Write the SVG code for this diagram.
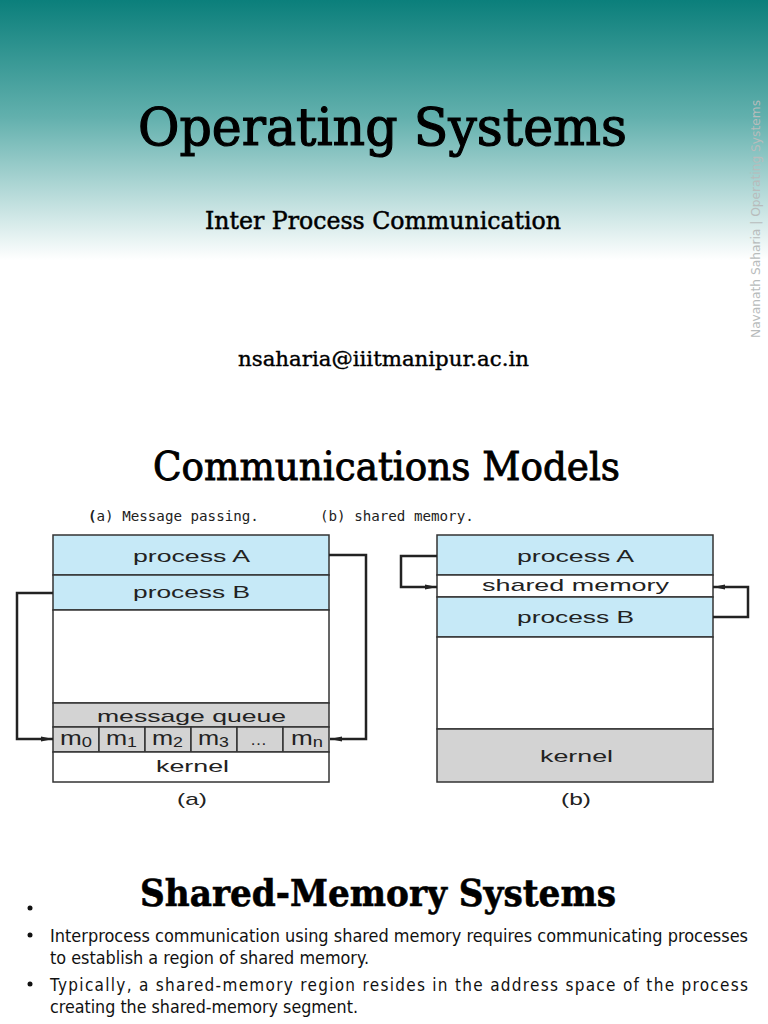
<svg xmlns="http://www.w3.org/2000/svg" width="768" height="1024" viewBox="0 0 768 1024">
<defs>
<linearGradient id="bg" x1="0" y1="0" x2="0" y2="1">
<stop offset="0" stop-color="#0b7f7b"/>
<stop offset="0.45" stop-color="#62b0ad"/>
<stop offset="1" stop-color="#ffffff"/>
</linearGradient>
<marker id="ah" viewBox="0 0 12 6" refX="12" refY="3" markerWidth="12" markerHeight="6" markerUnits="userSpaceOnUse" orient="auto">
<path d="M0,0.5 L12,3 L0,5.5 z" fill="#222"/>
</marker>
<style>
.slab{font-family:"DejaVu Serif",serif;fill:#000;stroke:#000}
.mono{font-family:"DejaVu Sans Mono","Liberation Mono",monospace;font-size:14.2px;fill:#222}
.lbl{font-family:"Liberation Sans",Arial,sans-serif;font-size:17px;fill:#222}
.m{font-family:"Liberation Sans",Arial,sans-serif;font-size:20px;fill:#222}
.blue{fill:#c6e9f7;stroke:#333;stroke-width:1.5}
.gray{fill:#d3d3d3;stroke:#333;stroke-width:1.5}
.white{fill:#ffffff;stroke:#333;stroke-width:1.5}
.conn{fill:none;stroke:#222;stroke-width:2.5;marker-end:url(#ah)}
.body{font-family:"DejaVu Sans Condensed","DejaVu Sans",sans-serif;font-size:17px;fill:#111}
</style>
</defs>
<rect x="0" y="0" width="768" height="260" fill="url(#bg)"/>
<rect x="0" y="260" width="768" height="764" fill="#ffffff"/>

<text class="slab" x="138" y="145" font-size="52" stroke-width="1.2" textLength="489" lengthAdjust="spacingAndGlyphs">Operating Systems</text>
<text class="slab" x="205" y="229" font-size="24" stroke-width="0.5" textLength="356" lengthAdjust="spacingAndGlyphs">Inter Process Communication</text>
<text class="slab" x="238" y="366" font-size="21" stroke-width="0.4" textLength="291" lengthAdjust="spacingAndGlyphs">nsaharia@iiitmanipur.ac.in</text>
<text x="760" y="338" transform="rotate(-90 760 338)" font-family="'DejaVu Sans Condensed','DejaVu Sans',sans-serif" font-size="12" fill="#b8bcbc" textLength="238" lengthAdjust="spacingAndGlyphs">Navanath Saharia | Operating Systems</text>

<text class="slab" x="153" y="480" font-size="39" stroke-width="0.9" textLength="467" lengthAdjust="spacingAndGlyphs">Communications Models</text>
<text class="mono" x="88" y="521"><tspan font-weight="bold">(</tspan>a) Message passing.</text>
<text class="mono" x="320" y="521">(b) shared memory.</text>

<g id="diagram-a">
<rect class="blue" x="53" y="535" width="276" height="40"/>
<text class="lbl" x="133" y="562" textLength="117" lengthAdjust="spacingAndGlyphs">process A</text>
<rect class="blue" x="53" y="575" width="276" height="35"/>
<text class="lbl" x="133" y="598" textLength="117" lengthAdjust="spacingAndGlyphs">process B</text>
<rect class="white" x="53" y="610" width="276" height="93"/>
<rect class="gray" x="53" y="703" width="276" height="24"/>
<text class="lbl" x="97" y="722" textLength="189" lengthAdjust="spacingAndGlyphs">message queue</text>
<rect class="gray" x="53" y="727" width="46" height="25"/>
<rect class="gray" x="99" y="727" width="46" height="25"/>
<rect class="gray" x="145" y="727" width="46" height="25"/>
<rect class="gray" x="191" y="727" width="46" height="25"/>
<rect class="gray" x="237" y="727" width="46" height="25"/>
<rect class="gray" x="283" y="727" width="46" height="25"/>
<text class="m" x="60" y="745" textLength="32" lengthAdjust="spacingAndGlyphs">m<tspan font-size="14" dy="2">0</tspan></text>
<text class="m" x="106" y="745" textLength="31" lengthAdjust="spacingAndGlyphs">m<tspan font-size="14" dy="2">1</tspan></text>
<text class="m" x="152" y="745" textLength="31" lengthAdjust="spacingAndGlyphs">m<tspan font-size="14" dy="2">2</tspan></text>
<text class="m" x="198" y="745" textLength="31" lengthAdjust="spacingAndGlyphs">m<tspan font-size="14" dy="2">3</tspan></text>
<text class="lbl" x="250" y="745">…</text>
<text class="m" x="291" y="745" textLength="32" lengthAdjust="spacingAndGlyphs">m<tspan font-size="14" dy="2">n</tspan></text>
<rect class="white" x="53" y="752" width="276" height="30"/>
<text class="lbl" x="156" y="772" textLength="73" lengthAdjust="spacingAndGlyphs">kernel</text>
<text class="lbl" x="177" y="805" font-size="20" textLength="30" lengthAdjust="spacingAndGlyphs">(a)</text>
</g>

<g id="diagram-b">
<rect class="blue" x="437" y="535" width="276" height="40"/>
<text class="lbl" x="517" y="562" textLength="117" lengthAdjust="spacingAndGlyphs">process A</text>
<rect class="white" x="437" y="575" width="276" height="22"/>
<text class="lbl" x="482" y="591" textLength="187" lengthAdjust="spacingAndGlyphs">shared memory</text>
<rect class="blue" x="437" y="597" width="276" height="40"/>
<text class="lbl" x="517" y="623" textLength="117" lengthAdjust="spacingAndGlyphs">process B</text>
<rect class="white" x="437" y="637" width="276" height="92"/>
<rect class="gray" x="437" y="729" width="276" height="53"/>
<text class="lbl" x="540" y="762" textLength="73" lengthAdjust="spacingAndGlyphs">kernel</text>
<text class="lbl" x="561" y="805" font-size="20" textLength="30" lengthAdjust="spacingAndGlyphs">(b)</text>
</g>

<g id="connectors">
<path class="conn" d="M329,555 H366 V739 H330"/>
<path class="conn" d="M53,593 H17 V739 H53"/>
<path class="conn" d="M437,556 H401 V587 H437"/>
<path class="conn" d="M713,617 H748 V587 H713"/>
</g>

<text class="slab" x="140" y="906" font-size="37" font-weight="bold" stroke-width="0.6" textLength="476" lengthAdjust="spacingAndGlyphs">Shared-Memory Systems</text>
<circle cx="30" cy="908" r="2.5" fill="#111"/>
<circle cx="30" cy="935" r="2.5" fill="#111"/>
<text class="body" x="50" y="942" textLength="698" lengthAdjust="spacingAndGlyphs">Interprocess communication using shared memory requires communicating processes</text>
<text class="body" x="50" y="964" textLength="319" lengthAdjust="spacingAndGlyphs">to establish a region of shared memory.</text>
<circle cx="30" cy="984" r="2.5" fill="#111"/>
<text class="body" x="50" y="991" textLength="698" lengthAdjust="spacing">Typically, a shared-memory region resides in the address space of the process</text>
<text class="body" x="50" y="1013" textLength="308" lengthAdjust="spacingAndGlyphs">creating the shared-memory segment.</text>
</svg>
